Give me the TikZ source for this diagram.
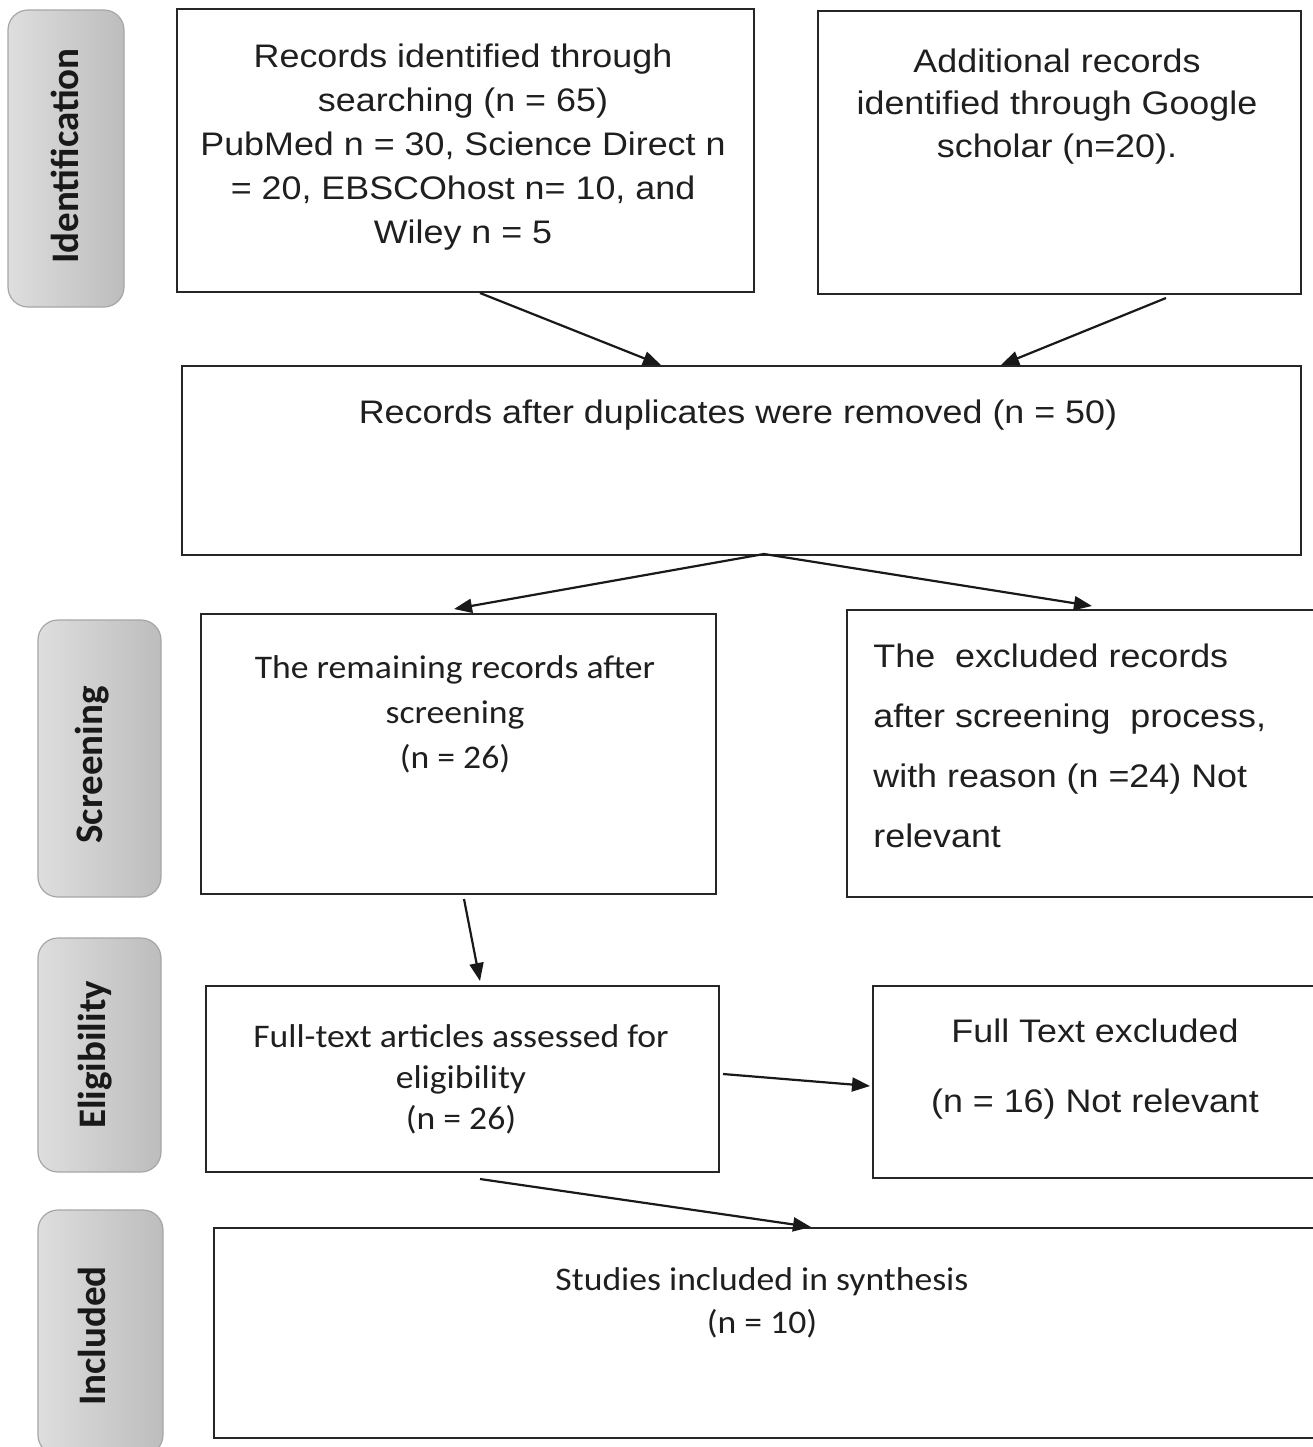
\documentclass[tikz,border=0pt]{standalone}
\usepackage{fontspec}
\setmainfont{Liberation Sans}[FakeStretch=1.1]
\newfontfamily\calib{Carlito}[FakeStretch=1.08]
\newfontfamily\labfont{Carlito}
\usetikzlibrary{arrows.meta,calc}
\begin{document}
\begin{tikzpicture}[x=0.5pt,y=-0.5pt,
  boxst/.style={draw=black!85, line width=1pt, inner sep=0pt},
  sidest/.style={draw=black!35, line width=0.6pt, rounded corners=10pt, left color=black!13, right color=black!26, inner sep=0pt},
  sidetxt/.style={rotate=90, font=\labfont\bfseries\fontsize{19.5}{22}\selectfont, text=black!90, inner sep=0pt},
  ariatxt/.style={font=\fontsize{16.3}{22}\selectfont, text=black!88, align=center, inner sep=0pt, anchor=north},
  calitxt/.style={font=\calib\fontsize{16.5}{22.5}\selectfont, text=black!88, align=center, inner sep=0pt, anchor=north},
  arr/.style={line width=1.1pt, draw=black!90, -{Triangle[length=9pt,width=7pt]}}]
\clip (0,0) rectangle (1313,1447);

% side labels
\node[sidest, minimum width=58pt, minimum height=148.5pt] (l1) at (66,158.5) {};
\node[sidest, minimum width=61.5pt, minimum height=138.5pt] (l2) at (99.5,758.5) {};
\node[sidest, minimum width=61.5pt, minimum height=117pt] (l3) at (99.5,1055) {};
\node[sidest, minimum width=62.5pt, minimum height=122.5pt] (l4) at (100.5,1332.5) {};
\node[sidetxt] (t1) at (65,156) {Identification};
\node[sidetxt] (t2) at (92,765) {Screening};
\node[sidetxt] (t3) at (95,1055) {Eligibility};
\node[sidetxt] (t4) at (92,1336) {Included};

% boxes
\node[boxst, minimum width=288.5pt, minimum height=141.5pt] (b1) at (465.5,150.5) {};
\node[boxst, minimum width=241.5pt, minimum height=141.5pt] (b2) at (1059.5,152.5) {};
\node[boxst, minimum width=559.5pt, minimum height=94.5pt] (b3) at (741.5,460.5) {};
\node[boxst, minimum width=257.5pt, minimum height=140pt] (b4) at (458.5,754) {};
\node[boxst, minimum width=236.5pt, minimum height=143.5pt] (b5) at (1083.5,753.5) {};
\node[boxst, minimum width=256.5pt, minimum height=93pt] (b6) at (462.5,1079) {};
\node[boxst, minimum width=223.5pt, minimum height=96pt] (b7) at (1096.5,1082) {};
\node[boxst, minimum width=553pt, minimum height=105pt] (b8) at (767,1333) {};

% texts
\node[ariatxt] (x1) at (463,43) {Records identified through\\searching (n = 65)\\PubMed n = 30, Science Direct n\\= 20, EBSCOhost n= 10, and\\Wiley n = 5};
\node[ariatxt, font=\fontsize{16.3}{21.25}\selectfont] (x2) at (1057,48) {Additional records\\identified through Google\\scholar (n=20).};
\node[ariatxt] (x3) at (738,399) {Records after duplicates were removed (n = 50)};
\node[calitxt] (x4) at (455,655) {The remaining records after\\screening\\(n = 26)};
\node[ariatxt, align=left, anchor=north west, font=\fontsize{16.3}{30}\selectfont] (x5) at (873,643) {The~ excluded records\\after screening~ process,\\with reason (n =24) Not\\relevant};
\node[calitxt, font=\calib\fontsize{16.5}{20.5}\selectfont] (x6) at (461,1024) {Full-text articles assessed for\\eligibility\\(n = 26)};
\node[ariatxt, font=\fontsize{16.3}{35}\selectfont] (x7) at (1095,1018) {Full Text excluded\\(n = 16) Not relevant};
\node[calitxt, font=\calib\fontsize{16.5}{21.5}\selectfont] (x8) at (762,1267) {Studies included in synthesis\\(n = 10)};

% arrows
\draw[arr] ($(b1.south west)+(304,0)$) -- ($(b3.north west)+(480,0)$);
\draw[arr] ($(b2.south west)+(349,3)$) -- ($(b3.north west)+(820,0)$);
\coordinate (split) at ($(b3.south west)+(583,-2)$);
\draw[arr] (split) -- ($(b4.north west)+(254,-4)$);
\draw[arr] (split) -- ($(b5.north west)+(246,-3)$);
\draw[arr] ($(b4.south west)+(264,4)$) -- ($(b6.north west)+(275,-4)$);
\draw[arr] ($(b6.north east)+(3,89)$) -- ($(b7.north west)+(-2,101)$);
\draw[arr] ($(b6.south west)+(275,6)$) -- ($(b8.north west)+(598,0)$);
\end{tikzpicture}
\end{document}
